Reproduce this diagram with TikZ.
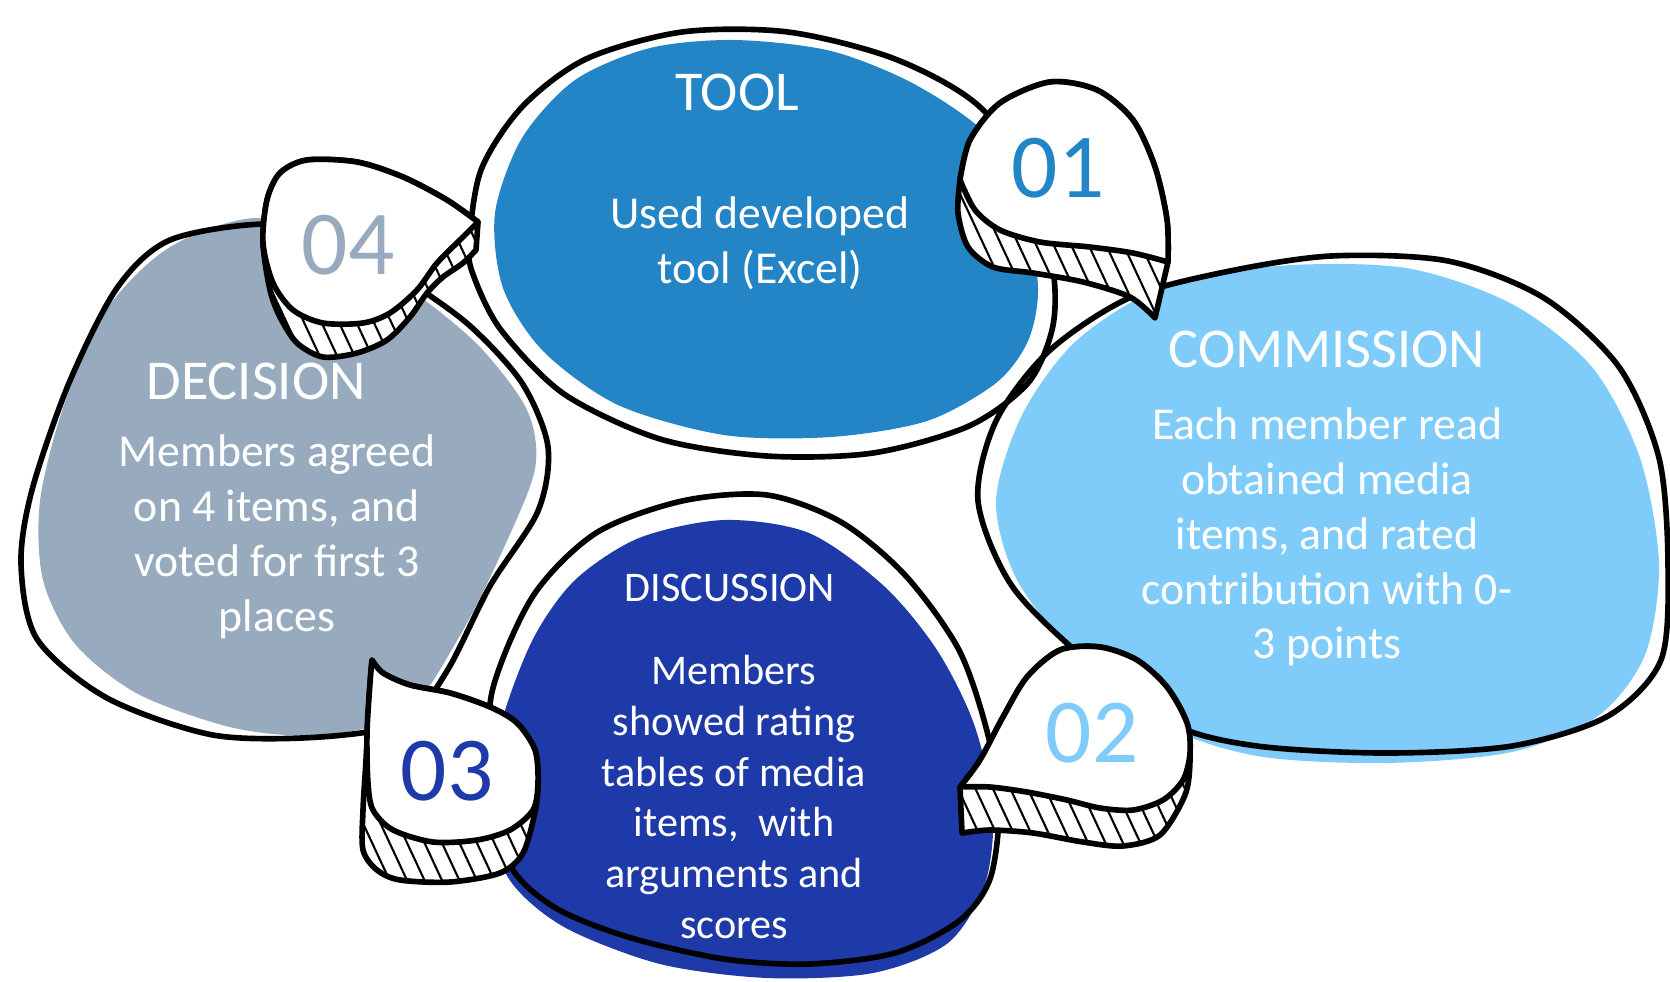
\documentclass[tikz,border=0pt]{standalone}
\usepackage{fontspec}
\setmainfont{Carlito}
\usetikzlibrary{patterns.meta}

\definecolor{toolblue}{RGB}{35,132,198}
\definecolor{commblue}{RGB}{127,204,250}
\definecolor{discblue}{RGB}{30,58,168}
\definecolor{decgray}{RGB}{152,171,190}

\tikzset{
  blobline/.style={line width=1.6pt, line join=round},
  title/.style={text=white, font=\fontsize{16}{19}\selectfont},
  body/.style={text=white, align=center, font=\fontsize{13}{15.6}\selectfont},
  smallbody/.style={text=white, align=center, font=\fontsize{12}{14.4}\selectfont},
  numtext/.style={font=\fontsize{26}{30}\selectfont},
  face/.style={fill=white, draw=black, line width=1.6pt, line join=round},
  band/.style={preaction={fill=white}, pattern={Lines[angle=-65,distance=4.5pt,line width=0.6pt]},
    draw=black, line width=1.6pt, line join=round}
}

\begin{document}
\begin{tikzpicture}[x=0.01cm, y=-0.01cm]
  \useasboundingbox (0,0) rectangle (1670,981);

  % Tool
  \fill[toolblue] plot[smooth cycle] coordinates {(495,213) (522,138) (575,80) (650,48) (735,40) (831,51)
    (916,85) (990,138) (1025,213) (1038,288) (1028,341) (996,383) (927,421) (831,437) (724,435)
    (618,405) (543,351) (503,288)};
  \draw[blobline] plot[smooth cycle] coordinates {(469,245) (481,170) (522,107) (586,59) (682,32) (788,32)
    (895,59) (980,107) (1038,192) (1054,277) (1052,330) (1028,383) (969,426) (873,453) (767,456)
    (660,439) (564,394) (501,330) (474,277)};
  \node[title] (tooltitle) at (737,92) {TOOL};
  \node[body] (tooltext) at (760,243) {Used developed\\tool (Excel)};

  % Commission
  \fill[commblue] plot[smooth cycle] coordinates {(996,501) (1022,415) (1076,341) (1161,288) (1278,266)
    (1406,268) (1512,304) (1592,367) (1640,458) (1659,564) (1645,655) (1598,716) (1512,752)
    (1385,763) (1257,756) (1161,724) (1076,655) (1017,580)};
  \draw[blobline] plot[smooth cycle] coordinates {(978,501) (996,421) (1049,351) (1129,298) (1225,272)
    (1331,256) (1448,261) (1544,298) (1619,367) (1659,458) (1668,564) (1661,660) (1608,716)
    (1512,746) (1385,753) (1257,746) (1172,724) (1086,660) (1012,586)};
  \node[title] (commtitle) at (1327,349) {COMMISSION};
  \node[body] (commtext) at (1327,537) {Each member read\\obtained media\\items, and rated\\contribution with 0-\\3 points};

  % Discussion
  \fill[discblue] plot[smooth cycle] coordinates {(488,809) (501,724) (533,639) (575,580) (639,538)
    (724,520) (809,533) (884,586) (937,650) (974,724) (993,809) (985,884) (948,943) (873,973)
    (767,978) (660,964) (564,927) (509,879)};
  \draw[blobline] plot[smooth cycle] coordinates {(492,692) (533,596) (596,533) (682,501) (767,495)
    (841,522) (905,575) (959,650) (988,735) (999,809) (990,879) (959,921) (895,953) (809,964)
    (724,959) (628,937) (554,907) (509,863) (492,777)};
  \node[smallbody] (disctitle) at (730,588) {DISCUSSION};
  \node[smallbody] (disctext) at (734,797) {Members\\showed rating\\tables of media\\items,~ with\\arguments and\\scores};

  % Decision
  \fill[decgray] plot[smooth cycle] coordinates {(256,218) (170,247) (107,309) (64,405) (40,501)
    (43,580) (75,644) (138,694) (234,728) (320,735) (405,714) (458,639) (501,554) (535,469)
    (527,410) (479,346) (415,293) (341,245)};
  \draw[blobline] plot[smooth cycle] coordinates {(266,224) (170,240) (117,288) (69,383) (32,490)
    (21,564) (37,639) (107,698) (213,735) (320,737) (405,722) (447,671) (490,586) (538,511)
    (548,447) (522,383) (469,325) (405,279) (341,240)};
  \node[title] (dectitle) at (256,381) {DECISION};
  \node[body] (dectext) at (277,537) {Members agreed\\on 4 items, and\\voted for first 3\\places};

  % 01
  \draw[band] plot[smooth] coordinates {(960,180) (970,140) (1000,103) (1050,82) (1097,90) (1133,120)
    (1155,167) (1167,220) (1168,262)} -- (1155,318) -- plot[smooth] coordinates {(1155,318) (1130,297)
    (1083,282) (1033,273) (993,267) (968,247) (958,213) (960,180)} -- cycle;
  \draw[face] plot[smooth] coordinates {(960,180) (970,140) (1000,103) (1050,82) (1097,90) (1133,120)
    (1155,167) (1167,220) (1168,262)} -- plot[smooth] coordinates {(1168,262) (1133,253) (1090,247)
    (1040,242) (1000,230) (975,210) (960,180)} -- cycle;
  \node[numtext, text=toolblue] (num01) at (1058,168) {01};

  % 02
  \draw[band] plot[smooth] coordinates {(960,787) (980,760) (1003,717) (1027,677) (1060,650) (1100,647)
    (1137,660) (1167,687) (1187,723) (1190,760) (1185,795) (1160,835) (1123,846) (1083,842)
    (1033,833) (990,830) (962,833)} -- cycle;
  \draw[face] plot[smooth] coordinates {(960,787) (980,760) (1003,717) (1027,677) (1060,650) (1100,647)
    (1137,660) (1167,687) (1187,723) (1190,753) (1183,780) (1163,800) (1133,810) (1100,808)
    (1067,800) (1027,792) (990,787) (960,787)} -- cycle;
  \node[numtext, text=commblue] (num02) at (1092,733) {02};

  % 03
  \draw[band] plot[smooth] coordinates {(372,660) (383,673) (410,685) (450,693) (490,707) (517,723)
    (535,750) (538,783) (535,812) (523,853) (500,873) (450,882) (400,880) (377,870) (363,850)
    (363,810) (366,760) (369,700) (372,660)} -- cycle;
  \draw[face] plot[smooth] coordinates {(372,660) (383,673) (410,685) (450,693) (490,707) (517,723)
    (535,750) (538,783) (533,810) (510,830) (477,840) (433,842) (393,830) (373,810) (368,783)
    (367,733) (370,683) (372,660)} -- cycle;
  \node[numtext, text=discblue] (num03) at (447,771) {03};

  % 04
  \draw[band] plot[smooth] coordinates {(478,222) (447,200) (403,177) (357,162) (307,160) (280,173)
    (267,200) (263,243) (270,290) (280,317) (297,343) (323,357) (357,353) (387,340) (410,317)
    (427,293) (443,277) (463,263) (476,250)} -- cycle;
  \draw[face] plot[smooth] coordinates {(478,222) (447,200) (403,177) (357,162) (307,160) (280,173)
    (267,200) (263,243) (273,283) (293,310) (323,323) (363,323) (390,313) (417,290) (437,263)
    (463,237) (478,222)} -- cycle;
  \node[numtext, text=decgray] (num04) at (348,245) {04};
\end{tikzpicture}
\end{document}
